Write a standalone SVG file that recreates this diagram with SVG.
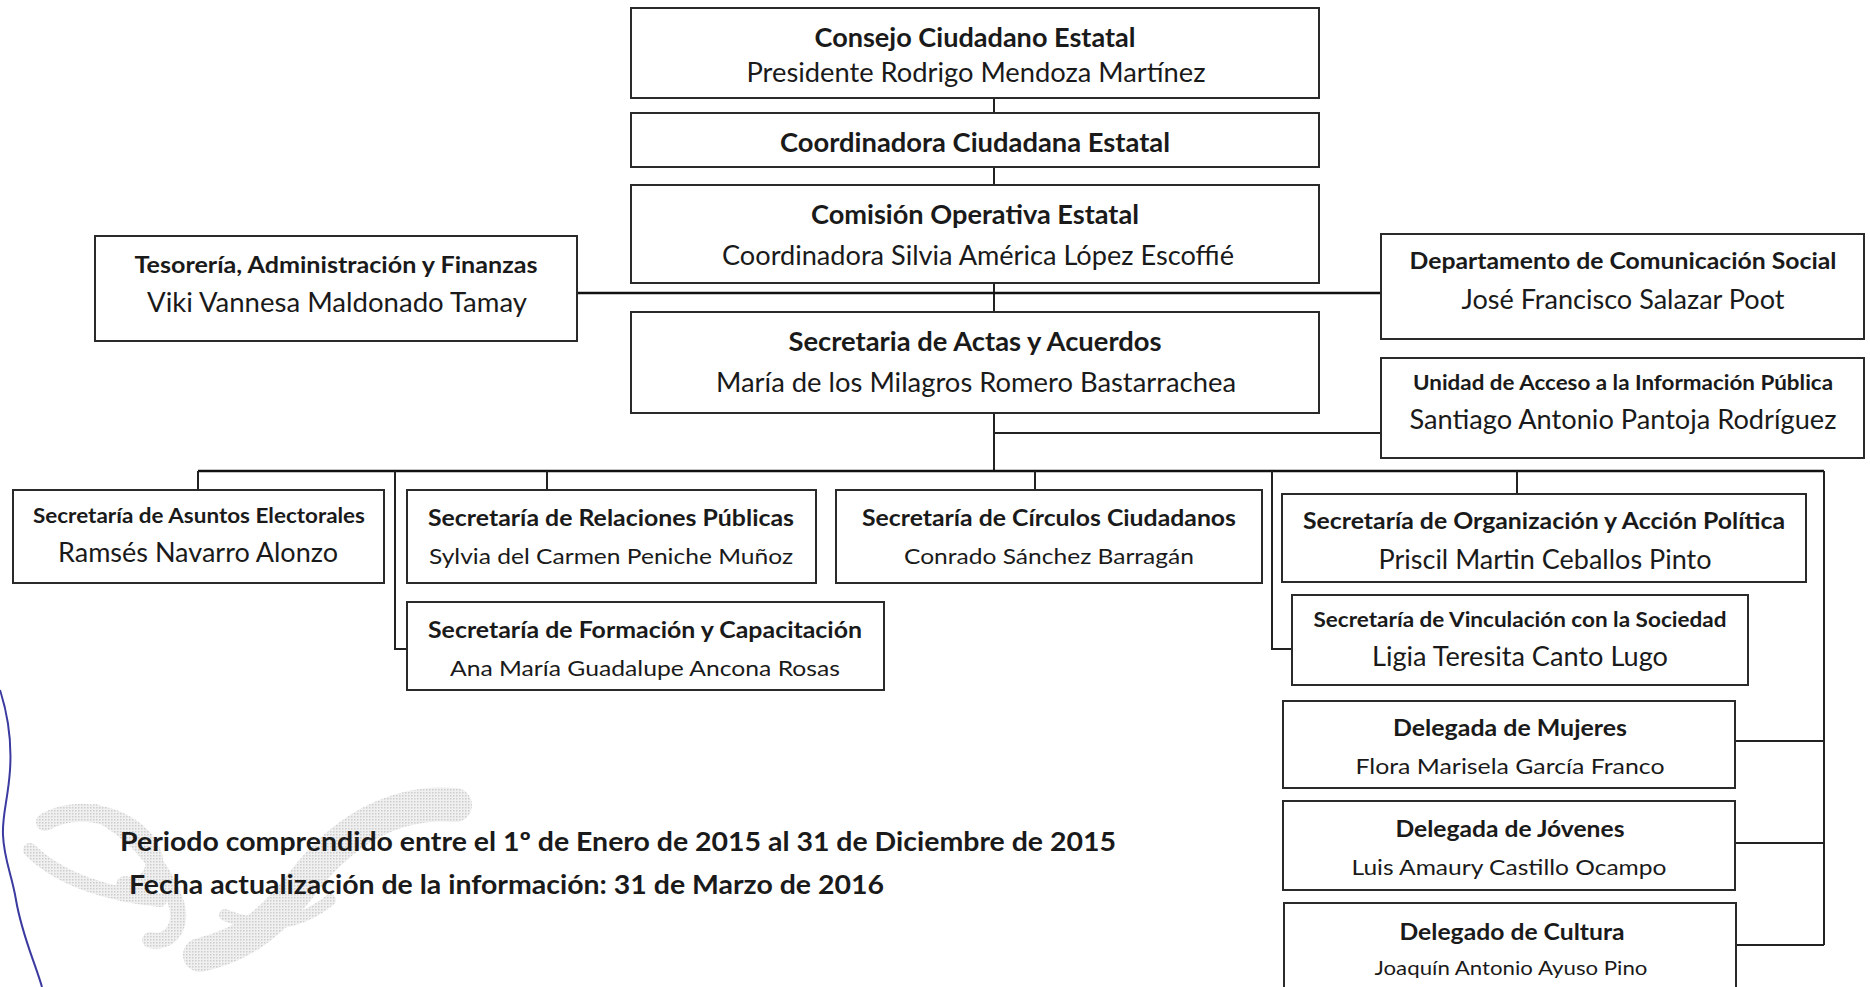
<svg xmlns="http://www.w3.org/2000/svg" width="1870" height="987" viewBox="0 0 1870 987">
<defs>
  <pattern id="dots" width="3" height="3" patternUnits="userSpaceOnUse">
    <rect width="3" height="3" fill="#ececec"/>
    <rect width="1.5" height="1.5" fill="#bdbdbd"/>
  </pattern>
</defs>
<style>
  .box{fill:#fff;stroke:#2a2a2a;stroke-width:2}
  .ln{fill:none;stroke:#222;stroke-width:2}
  .thk{fill:none;stroke:#111;stroke-width:2.6}
  text{font-family:Lato,"Liberation Sans",sans-serif;fill:#1a1a1a;text-anchor:middle}
  .b{font-weight:bold}
  .t26{font-size:26px}
  .t22{font-size:22px}
  .t20{font-size:20px}
</style>
<rect width="1870" height="987" fill="#fff"/>
<g id="watermark" fill="none" stroke="url(#dots)" stroke-linecap="round" opacity="0.75">
  <path d="M45,822 C75,805 120,812 145,840 C165,865 150,890 125,885" stroke-width="18"/>
  <path d="M30,850 C60,880 110,895 160,900" stroke-width="14"/>
  <path d="M95,812 C130,830 160,860 175,900 C185,925 170,945 150,940" stroke-width="16"/>
  <path d="M455,805 C390,800 340,835 305,880 C275,920 245,945 200,955" stroke-width="34"/>
  <path d="M225,915 C260,930 300,925 330,900" stroke-width="12"/>
</g>
<path id="signature" d="M0,690 C8,715 12,740 10,770 C8,800 2,815 3,835 C4,860 12,875 16,900 C22,935 34,960 42,987" fill="none" stroke="#3a3aa0" stroke-width="2"/>
<g id="connectors">
  <line class="ln" x1="994" y1="98" x2="994" y2="113"/>
  <line class="ln" x1="994" y1="167" x2="994" y2="185"/>
  <line class="ln" x1="994" y1="283" x2="994" y2="312"/>
  <line class="thk" x1="577" y1="293" x2="1381" y2="293"/>
  <line class="ln" x1="994" y1="413" x2="994" y2="471"/>
  <line class="ln" x1="994" y1="433" x2="1381" y2="433"/>
  <line class="thk" x1="198" y1="471" x2="1824" y2="471"/>
  <line class="ln" x1="198" y1="471" x2="198" y2="490"/>
  <line class="ln" x1="547" y1="471" x2="547" y2="490"/>
  <line class="ln" x1="1035" y1="471" x2="1035" y2="490"/>
  <line class="ln" x1="1517" y1="471" x2="1517" y2="494"/>
  <polyline class="ln" points="395,471 395,649 407,649"/>
  <polyline class="ln" points="1272,471 1272,649 1292,649"/>
  <line class="ln" x1="1824" y1="471" x2="1824" y2="945"/>
  <line class="ln" x1="1735" y1="741" x2="1824" y2="741"/>
  <line class="ln" x1="1735" y1="843" x2="1824" y2="843"/>
  <line class="ln" x1="1736" y1="945" x2="1824" y2="945"/>
</g>
<g id="consejo">
  <rect class="box" x="631" y="8" width="688" height="90"/>
  <text class="b t26" x="975" y="47" textLength="321" lengthAdjust="spacingAndGlyphs">Consejo Ciudadano Estatal</text>
  <text class="t26" x="976" y="82" textLength="459" lengthAdjust="spacingAndGlyphs">Presidente Rodrigo Mendoza Martínez</text>
</g>
<g id="coordinadora">
  <rect class="box" x="631" y="113" width="688" height="54"/>
  <text class="b t26" x="975" y="152" textLength="390" lengthAdjust="spacingAndGlyphs">Coordinadora Ciudadana Estatal</text>
</g>
<g id="comision">
  <rect class="box" x="631" y="185" width="688" height="98"/>
  <text class="b t26" x="975" y="224" textLength="328" lengthAdjust="spacingAndGlyphs">Comisión Operativa Estatal</text>
  <text class="t26" x="978" y="265" textLength="512" lengthAdjust="spacingAndGlyphs">Coordinadora Silvia América López Escoffié</text>
</g>
<g id="tesoreria">
  <rect class="box" x="95" y="236" width="482" height="105"/>
  <text class="b t22" x="336" y="273" textLength="403" lengthAdjust="spacingAndGlyphs">Tesorería, Administración y Finanzas</text>
  <text class="t26" x="337" y="312" textLength="380" lengthAdjust="spacingAndGlyphs">Viki Vannesa Maldonado Tamay</text>
</g>
<g id="comunicacion">
  <rect class="box" x="1381" y="234" width="483" height="105"/>
  <text class="b t22" x="1623" y="269" textLength="427" lengthAdjust="spacingAndGlyphs">Departamento de Comunicación Social</text>
  <text class="t26" x="1623" y="309" textLength="323" lengthAdjust="spacingAndGlyphs">José Francisco Salazar Poot</text>
</g>
<g id="actas">
  <rect class="box" x="631" y="312" width="688" height="101"/>
  <text class="b t26" x="975" y="351" textLength="373" lengthAdjust="spacingAndGlyphs">Secretaria de Actas y Acuerdos</text>
  <text class="t26" x="976" y="392" textLength="520" lengthAdjust="spacingAndGlyphs">María de los Milagros Romero Bastarrachea</text>
</g>
<g id="unidad">
  <rect class="box" x="1381" y="358" width="483" height="100"/>
  <text class="b t20" x="1623" y="390" textLength="420" lengthAdjust="spacingAndGlyphs">Unidad de Acceso a la Información Pública</text>
  <text class="t26" x="1623" y="429" textLength="427" lengthAdjust="spacingAndGlyphs">Santiago Antonio Pantoja Rodríguez</text>
</g>
<g id="asuntos">
  <rect class="box" x="13" y="490" width="371" height="93"/>
  <text class="b t20" x="199" y="523" textLength="332" lengthAdjust="spacingAndGlyphs">Secretaría de Asuntos Electorales</text>
  <text class="t26" x="198" y="562" textLength="280" lengthAdjust="spacingAndGlyphs">Ramsés Navarro Alonzo</text>
</g>
<g id="relaciones">
  <rect class="box" x="407" y="490" width="409" height="93"/>
  <text class="b t22" x="611" y="526" textLength="366" lengthAdjust="spacingAndGlyphs">Secretaría de Relaciones Públicas</text>
  <text class="t22" x="611" y="564" textLength="364" lengthAdjust="spacingAndGlyphs">Sylvia del Carmen Peniche Muñoz</text>
</g>
<g id="circulos">
  <rect class="box" x="836" y="490" width="426" height="93"/>
  <text class="b t22" x="1049" y="526" textLength="374" lengthAdjust="spacingAndGlyphs">Secretaría de Círculos Ciudadanos</text>
  <text class="t22" x="1049" y="564" textLength="290" lengthAdjust="spacingAndGlyphs">Conrado Sánchez Barragán</text>
</g>
<g id="organizacion">
  <rect class="box" x="1282" y="494" width="524" height="88"/>
  <text class="b t22" x="1544" y="529" textLength="482" lengthAdjust="spacingAndGlyphs">Secretaría de Organización y Acción Política</text>
  <text class="t26" x="1545" y="569" textLength="333" lengthAdjust="spacingAndGlyphs">Priscil Martin Ceballos Pinto</text>
</g>
<g id="formacion">
  <rect class="box" x="407" y="602" width="477" height="88"/>
  <text class="b t22" x="645" y="638" textLength="434" lengthAdjust="spacingAndGlyphs">Secretaría de Formación y Capacitación</text>
  <text class="t22" x="645" y="676" textLength="390" lengthAdjust="spacingAndGlyphs">Ana María Guadalupe Ancona Rosas</text>
</g>
<g id="vinculacion">
  <rect class="box" x="1292" y="595" width="456" height="90"/>
  <text class="b t20" x="1520" y="627" textLength="413" lengthAdjust="spacingAndGlyphs">Secretaría de Vinculación con la Sociedad</text>
  <text class="t26" x="1520" y="666" textLength="296" lengthAdjust="spacingAndGlyphs">Ligia Teresita Canto Lugo</text>
</g>
<g id="mujeres">
  <rect class="box" x="1283" y="701" width="452" height="87"/>
  <text class="b t22" x="1510" y="736" textLength="234" lengthAdjust="spacingAndGlyphs">Delegada de Mujeres</text>
  <text class="t22" x="1510" y="774" textLength="309" lengthAdjust="spacingAndGlyphs">Flora Marisela García Franco</text>
</g>
<g id="jovenes">
  <rect class="box" x="1283" y="801" width="452" height="89"/>
  <text class="b t22" x="1510" y="837" textLength="229" lengthAdjust="spacingAndGlyphs">Delegada de Jóvenes</text>
  <text class="t22" x="1509" y="875" textLength="315" lengthAdjust="spacingAndGlyphs">Luis Amaury Castillo Ocampo</text>
</g>
<g id="cultura">
  <rect class="box" x="1284" y="903" width="452" height="100"/>
  <text class="b t22" x="1512" y="940" textLength="225" lengthAdjust="spacingAndGlyphs">Delegado de Cultura</text>
  <text class="t20" x="1511" y="975" textLength="273" lengthAdjust="spacingAndGlyphs">Joaquín Antonio Ayuso Pino</text>
</g>
<g id="footer">
  <text class="b t26" x="120" y="851" style="text-anchor:start" textLength="996" lengthAdjust="spacingAndGlyphs">Periodo comprendido entre el 1º de Enero de 2015 al 31 de Diciembre de 2015</text>
  <text class="b t26" x="129" y="894" style="text-anchor:start" textLength="755" lengthAdjust="spacingAndGlyphs">Fecha actualización de la información: 31 de Marzo de 2016</text>
</g>
</svg>
